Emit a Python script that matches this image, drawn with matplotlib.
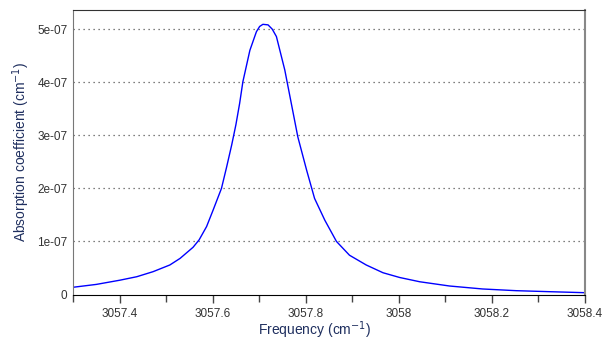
import numpy as np
import matplotlib.pyplot as plt
from matplotlib.ticker import FuncFormatter, MultipleLocator

plt.rcParams['font.family'] = ['Liberation Sans', 'DejaVu Sans']

# values (y in units of 1e-7 cm^-1)
freq = [3057.300, 3057.350, 3057.401, 3057.437, 3057.472, 3057.508, 3057.530,
        3057.558, 3057.571, 3057.587, 3057.601, 3057.619, 3057.630, 3057.641,
        3057.650, 3057.658, 3057.665, 3057.680, 3057.694, 3057.701, 3057.708,
        3057.719, 3057.728, 3057.737, 3057.755, 3057.769, 3057.783, 3057.802,
        3057.819, 3057.841, 3057.866, 3057.894, 3057.930, 3057.966, 3058.002,
        3058.045, 3058.109, 3058.180, 3058.252, 3058.324, 3058.400]
absorb = [0.136, 0.19, 0.27, 0.335, 0.43, 0.556, 0.68,
          0.89, 1.03, 1.28, 1.59, 2.00, 2.40, 2.82,
          3.20, 3.60, 4.01, 4.60, 4.95, 5.05, 5.09,
          5.08, 5.00, 4.86, 4.23, 3.60, 2.97, 2.34,
          1.81, 1.40, 1.00, 0.74, 0.556, 0.41, 0.32,
          0.24, 0.16, 0.104, 0.072, 0.053, 0.034]

x = np.array(freq)
y = np.array(absorb) * 1e-7

fig = plt.figure(figsize=(6.05, 3.41), dpi=100)
ax = fig.add_axes([73/605, 1 - 294.5/341, 512/605, 284.5/341])

ax.plot(x, y, color='#0000ff', lw=1.0)

ax.set_xlim(3057.3, 3058.4)
ax.set_ylim(0, 5.36e-7)

ax.xaxis.set_major_locator(MultipleLocator(0.2))
ax.xaxis.set_minor_locator(MultipleLocator(0.1))
ax.xaxis.set_major_formatter(FuncFormatter(lambda v, p: ('%.1f' % v).rstrip('0').rstrip('.')))
ax.set_yticks([0, 1e-7, 2e-7, 3e-7, 4e-7, 5e-7])
ax.yaxis.set_major_formatter(FuncFormatter(lambda v, p: '0' if v == 0 else '%.0e' % v))

ax.tick_params(axis='x', which='major', direction='out', length=6, width=1,
               color='#444444', labelsize=8.5, labelcolor='#333333', pad=4)
ax.tick_params(axis='x', which='minor', direction='out', length=5, width=1, color='#444444')
ax.tick_params(axis='y', length=0, labelsize=8.5, labelcolor='#333333', pad=4)

for yv in [1e-7, 2e-7, 3e-7, 4e-7, 5e-7]:
    ax.axhline(yv, color='#555555', lw=0.9, ls=(0, (1, 3)), zorder=0)

ax.spines['top'].set_color('#333333')
ax.spines['right'].set_color('#888888')
ax.spines['right'].set_linewidth(1.5)
ax.spines['left'].set_color('#777777')
ax.spines['bottom'].set_color('#000000')

ax.set_xlabel('Frequency (cm$^{-1}$)', fontsize=10, color='#1f2f5f', labelpad=-1)
ax.xaxis.label.set_x(0.471)
ax.set_ylabel('Absorption coefficient (cm$^{-1}$)', fontsize=10, color='#1f2f5f', labelpad=4)

fig.savefig('out.png', dpi=100)
